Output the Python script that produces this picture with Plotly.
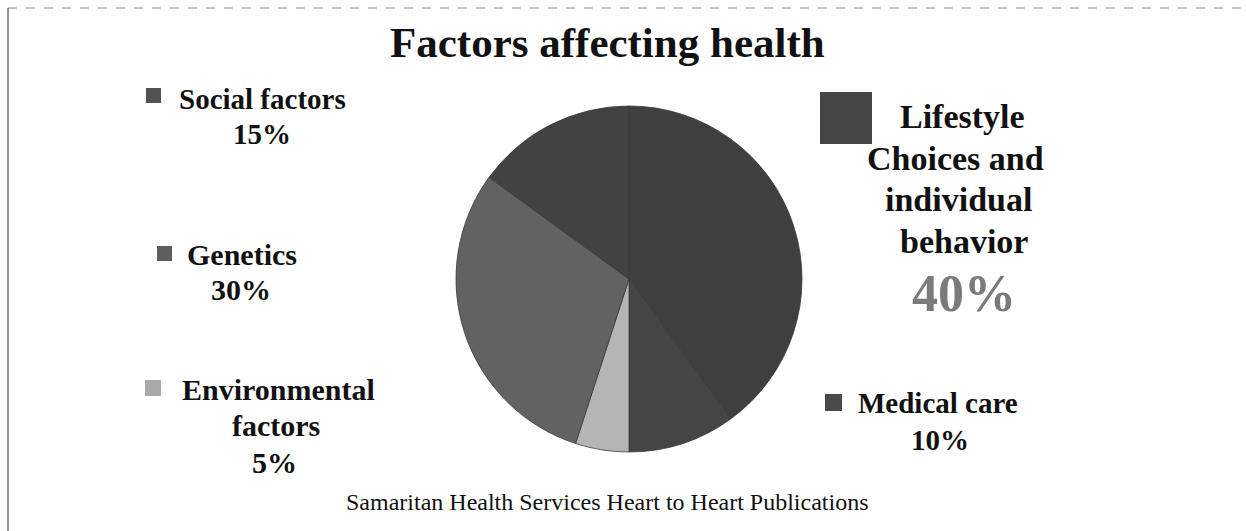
import plotly.graph_objects as go

# Data
categories = ["Lifestyle Choices and individual behavior", "Medical care",
              "Environmental factors", "Genetics", "Social factors"]
values = [40, 10, 5, 30, 15]
colors = ["#3f3f3f", "#454545", "#b5b5b5", "#626262", "#424242"]
swatch_colors = ["#454545", "#4a4a4a", "#a8a8a8", "#5e5e5e", "#525252"]
title = "Factors affecting health"
source = "Samaritan Health Services Heart to Heart Publications"

W, H = 1246, 531
SERIF = "Liberation Serif, Times New Roman, serif"


def px(x):
    return x / W


def py(y):
    return 1 - y / H


fig = go.Figure()
fig.add_trace(go.Pie(
    labels=categories, values=values, sort=False, direction="clockwise",
    rotation=0, textinfo="none", hoverinfo="label+percent",
    marker=dict(colors=colors, line=dict(color="#3a3a3a", width=0.8)),
    domain=dict(x=[px(629 - 173), px(629 + 173)],
                y=[py(279 + 173), py(279 - 173)]),
    showlegend=False,
))

ann = []


def add(text, x, y, size, color="#111", bold=True):
    t = f"<b>{text}</b>" if bold else text
    ann.append(dict(text=t, x=px(x), y=py(y), xref="paper", yref="paper",
                    showarrow=False, xanchor="center", yanchor="middle",
                    font=dict(family=SERIF, size=size, color=color)))


add(title, 607, 42, 43)
# Social factors
add(categories[4], 262, 99, 29)
add(f"{values[4]}%", 262, 134, 29)
# Genetics
add(categories[3], 242, 254, 30)
add(f"{values[3]}%", 241, 289, 30)
# Environmental factors
env = categories[2].split(" ")
add(env[0], 278, 389, 30)
add(env[1], 276, 425, 30)
add(f"{values[2]}%", 274, 462, 30)
# Medical care
add(categories[1], 938, 403, 29)
add(f"{values[1]}%", 940, 440, 29)
# Lifestyle
add("Lifestyle", 962, 117, 34)
add("Choices and", 955, 158, 34)
add("individual", 958, 199, 34)
add("behavior", 964, 241, 34)
add(f"{values[0]}%", 964, 293, 52, color="#7a7a7a")
# Source
add(source, 607, 502, 24, bold=False)

swatches = [  # (x0, y0, size) of legend swatches, per category index
    (820, 92, 52), (825, 394, 17), (145, 380, 16), (157, 246, 15), (146, 88, 15)]
shapes = []
for (x0, y0, s), c in zip(swatches, swatch_colors):
    shapes.append(dict(type="rect", xref="paper", yref="paper",
                       x0=px(x0), x1=px(x0 + s), y0=py(y0 + s), y1=py(y0),
                       fillcolor=c, line=dict(width=0)))
shapes += [
    dict(type="line", xref="paper", yref="paper", x0=px(8), x1=1, y0=py(8), y1=py(8),
         line=dict(color="#8a8a8a", width=1, dash="dash")),
    dict(type="line", xref="paper", yref="paper", x0=px(8), x1=px(8), y0=0, y1=py(8),
         line=dict(color="#222", width=1)),
]

fig.update_layout(
    width=W, height=H, margin=dict(l=0, r=0, t=0, b=0),
    paper_bgcolor="white", plot_bgcolor="white",
    annotations=ann, shapes=shapes,
)
fig.write_html("out.html")
